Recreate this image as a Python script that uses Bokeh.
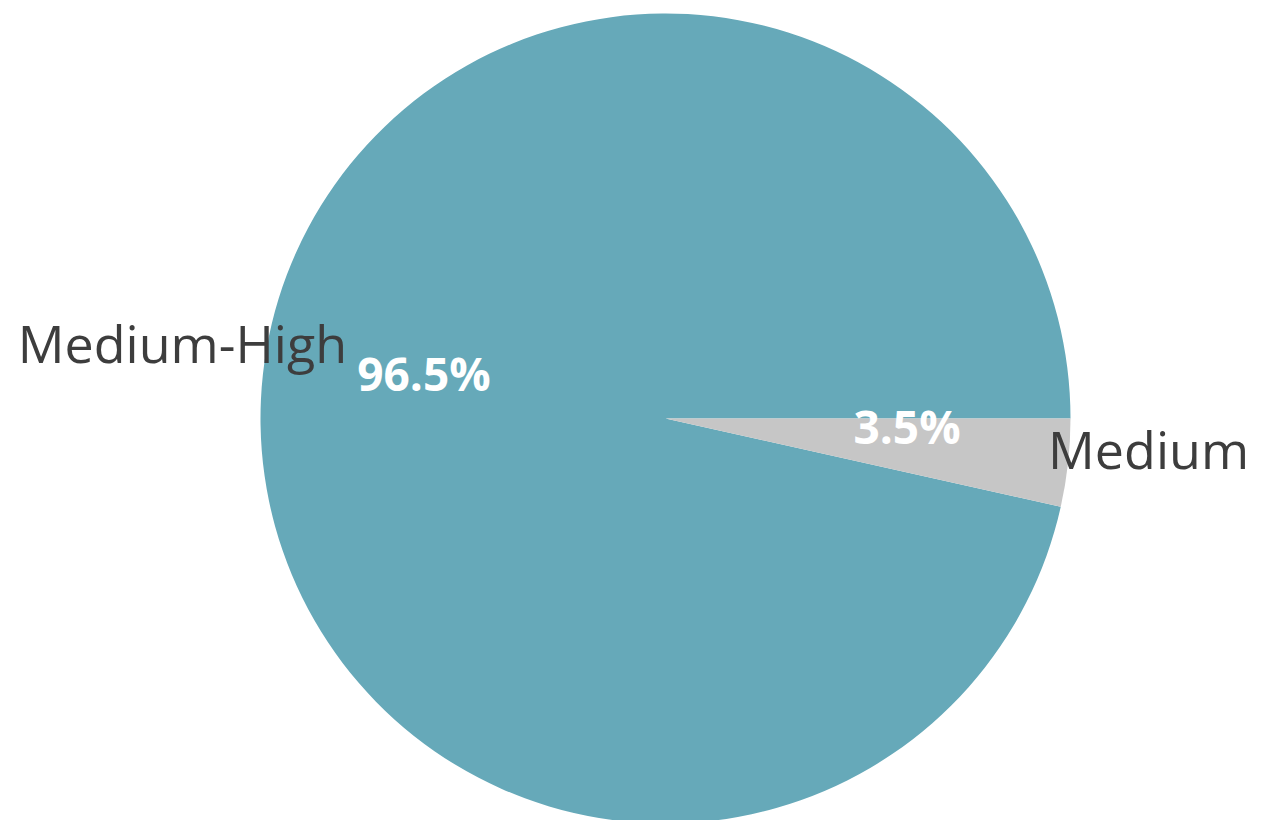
import math
from bokeh.plotting import figure
from bokeh.models import ColumnDataSource, Range1d
from bokeh.core.properties import value
from bokeh.embed import file_html
from bokeh.resources import INLINE

categories = ["Medium-High", "Medium"]
shares = [96.5, 3.5]
colors = ["#66A9B9", "#C6C6C6"]

W, H = 1273, 820
cx, cy, R = 665, H - 418, 405

# Medium-High: from 0 ccw; Medium: clockwise from 0
med_span = shares[1] / 100 * 2 * math.pi
starts = [0.0, -med_span]
ends = [2 * math.pi - med_span, 0.0]
mids = [(s + e) / 2 for s, e in zip(starts, ends)]

src = ColumnDataSource(dict(cat=categories, start=starts, end=ends, color=colors))

p = figure(width=W, height=H, x_range=Range1d(0, W), y_range=Range1d(0, H),
           output_backend="svg", toolbar_location=None, min_border=0,
           background_fill_color="white", border_fill_color="white")
p.axis.visible = False
p.grid.visible = False
p.outline_line_color = None

p.wedge(x=cx, y=cy, radius=R, start_angle="start", end_angle="end",
        fill_color="color", line_color=None, source=src)

lab = ColumnDataSource(dict(
    x=[cx + 1.2 * R * math.cos(m) for m in mids],
    y=[cy + 1.2 * R * math.sin(m) for m in mids],
    t=categories))
p.text(x="x", y="y", text="t", source=lab, text_align="center",
       text_baseline="alphabetic", text_font=value("Open Sans"),
       text_font_size="52px", text_color="#3D3D3D", y_offset=-23)

pct = ColumnDataSource(dict(
    x=[cx + 0.6 * R * math.cos(m) for m in mids],
    y=[cy + 0.6 * R * math.sin(m) for m in mids],
    t=[f"{v:.1f}%" for v in shares]))
p.text(x="x", y="y", text="t", source=pct, text_align="center",
       text_baseline="alphabetic", text_font=value("Open Sans"),
       text_font_style="bold", text_font_size="46px", text_color="white",
       y_offset=-19)

open("out.html", "w").write(file_html(p, INLINE))
